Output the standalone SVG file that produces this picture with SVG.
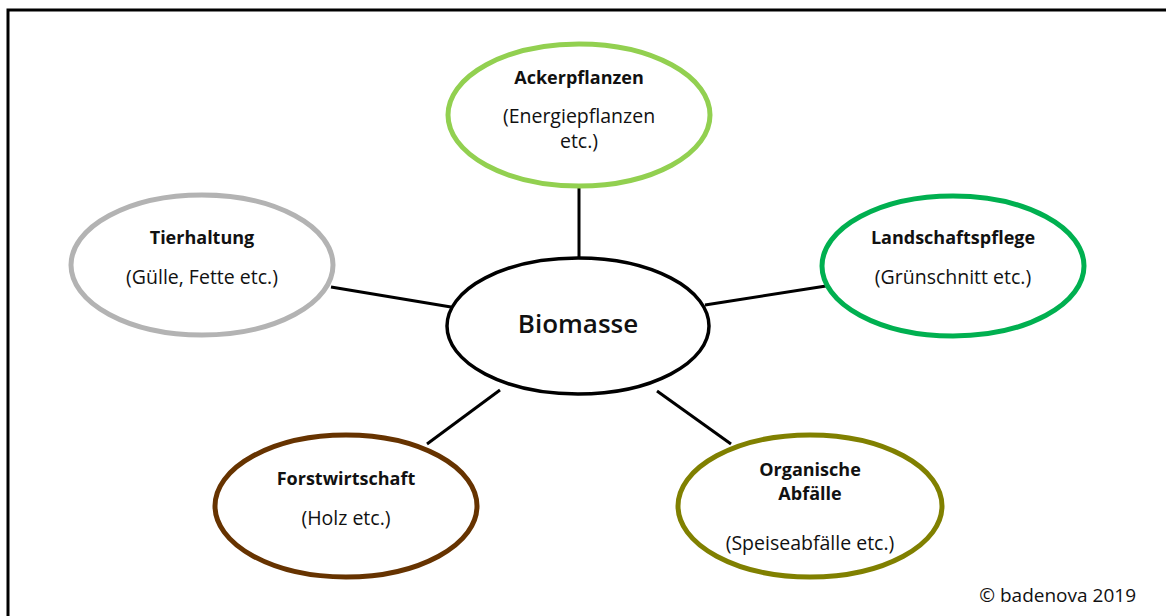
<svg xmlns="http://www.w3.org/2000/svg" width="1166" height="616" viewBox="0 0 1166 616">
<style>
.b{font-family:"Open Sans","Noto Sans",sans-serif;font-weight:bold;font-size:18px;fill:#111;text-anchor:middle}
.r{font-family:"Open Sans","Noto Sans",sans-serif;font-size:19.5px;fill:#111;text-anchor:middle}
.e{fill:#fff;stroke-width:5}
.c line{stroke:#000;stroke-width:3}
</style>
<rect width="1166" height="616" fill="#fff"/>
<path d="M8 616 V10 H1166" fill="none" stroke="#000" stroke-width="3"/>
<g class="c" id="connectors">
<line x1="579" y1="186" x2="579" y2="259"/>
<line x1="331" y1="287" x2="451" y2="307"/>
<line x1="705" y1="305" x2="826" y2="286"/>
<line x1="427" y1="444" x2="500" y2="390"/>
<line x1="657" y1="391" x2="731" y2="444"/>
</g>
<g id="biomasse">
<ellipse cx="578" cy="326" rx="131" ry="68" fill="#fff" stroke="#000" stroke-width="3.5"/>
<text x="578" y="333" class="r" style="font-size:26px;font-weight:600">Biomasse</text>
</g>
<g id="ackerpflanzen">
<ellipse class="e" cx="579" cy="115" rx="131" ry="71" stroke="#92d050"/>
<text x="579" y="84" class="b">Ackerpflanzen</text>
<text x="579" y="123" class="r">(Energiepflanzen</text>
<text x="579" y="148" class="r">etc.)</text>
</g>
<g id="tierhaltung">
<ellipse class="e" cx="202" cy="265" rx="131" ry="70" stroke="#b3b3b3"/>
<text x="202" y="244" class="b">Tierhaltung</text>
<text x="202" y="284" class="r">(Gülle, Fette etc.)</text>
</g>
<g id="landschaftspflege">
<ellipse class="e" cx="953" cy="266" rx="131" ry="70" stroke="#00b050"/>
<text x="953" y="244" class="b">Landschaftspflege</text>
<text x="953" y="284" class="r">(Grünschnitt etc.)</text>
</g>
<g id="forstwirtschaft">
<ellipse class="e" cx="346" cy="506" rx="131" ry="71" stroke="#663300"/>
<text x="346" y="485" class="b">Forstwirtschaft</text>
<text x="346" y="525" class="r">(Holz etc.)</text>
</g>
<g id="organische">
<ellipse class="e" cx="810" cy="506" rx="132" ry="71" stroke="#808000"/>
<text x="810" y="476" class="b">Organische</text>
<text x="810" y="500" class="b">Abfälle</text>
<text x="810" y="550" class="r">(Speiseabfälle etc.)</text>
</g>
<text x="1136" y="602" class="r" style="text-anchor:end;font-size:19px">© badenova 2019</text>
</svg>
